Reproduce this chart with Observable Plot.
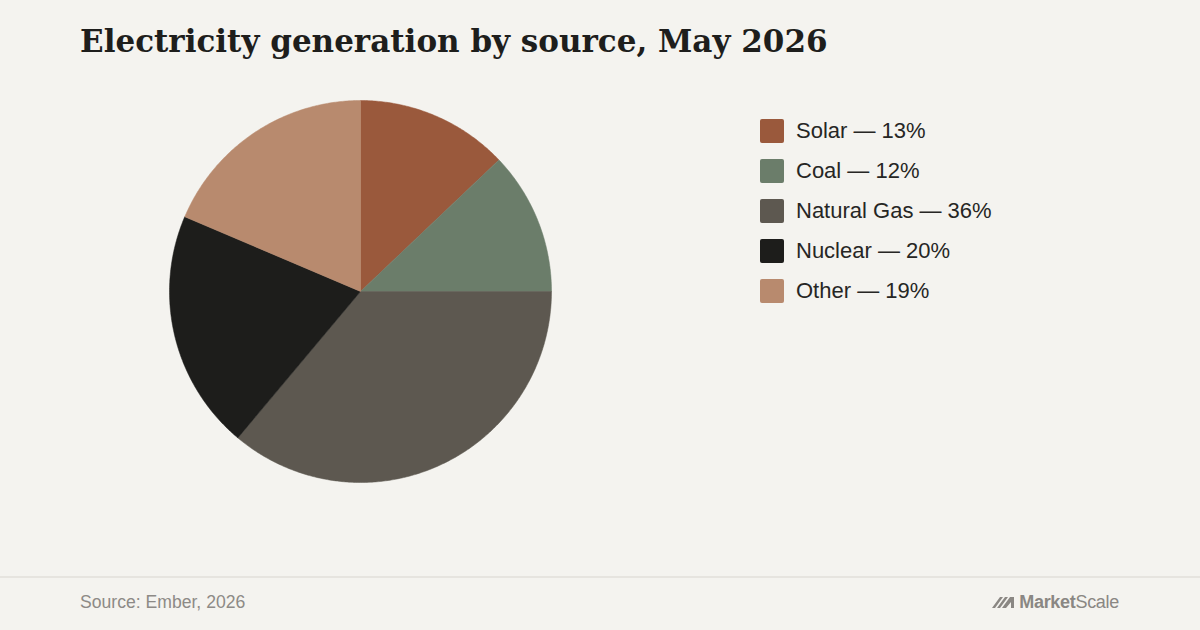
<!DOCTYPE html>
<html>
<head>
<meta charset="utf-8">
<script src="https://cdn.jsdelivr.net/npm/d3@7"></script>
<script src="https://cdn.jsdelivr.net/npm/@observablehq/plot@0.6"></script>
<style>
  html, body { margin: 0; padding: 0; }
  body { width: 1200px; height: 630px; background: #f4f3ef; position: relative; overflow: hidden; font-family: "Liberation Sans", Arial, sans-serif; }
  #title { position: absolute; left: 80px; top: 23px; font-family: "DejaVu Serif", serif; font-weight: bold; font-size: 31px; color: #1e1e1c; letter-spacing: 0; white-space: nowrap; }
  #chart { position: absolute; left: 160px; top: 91px; }
  #legend { position: absolute; left: 760px; top: 119px; }
  .item { display: flex; align-items: center; height: 24px; margin-bottom: 16px; }
  .sw { width: 24px; height: 24px; border-radius: 2px; margin-right: 12px; }
  .lab { font-size: 22px; color: #262624; white-space: nowrap; }
  #rule { position: absolute; left: 0; top: 576px; width: 1200px; height: 2px; background: #e6e4df; }
  #source { position: absolute; left: 80px; top: 592px; font-size: 17.6px; color: #8d8a86; }
  #logo { position: absolute; right: 81px; top: 592px; display: flex; align-items: center; font-size: 18px; color: #8a8783; letter-spacing: -0.3px; }
  #logo b { font-weight: bold; }
</style>
</head>
<body>
<div id="title">Electricity generation by source, May 2026</div>
<div id="chart"></div>
<div id="legend"></div>
<div id="rule"></div>
<div id="source">Source: Ember, 2026</div>
<div id="logo"><svg width="24" height="13" viewBox="0 0 24 13" style="margin-right:3px"><path d="M0 12 L8 1 L11 1 L3 12 Z M5 12 L13 1 L16 1 L8 12 Z M10 12 L18 1 L22 1 L22 12 L19 12 L19 6 L14 12 Z" fill="#8a8783"/></svg><b>Market</b>Scale</div>
<script>
const sources = ["Solar", "Coal", "Natural Gas", "Nuclear", "Other"];
const shares = [12.9, 12.1, 36.1, 20.3, 18.6];
const labels = ["13%", "12%", "36%", "20%", "19%"];
const colors = ["#9a593c", "#6b7d6a", "#5d5850", "#1d1d1b", "#b88a6e"];

const data = sources.map((s, i) => ({source: s, share: shares[i], label: labels[i], color: colors[i]}));

// compute wedge polygons from data via d3.pie
const arcs = d3.pie().sort(null).value(d => d.share)(data);
const pts = [];
for (const a of arcs) {
  const n = Math.max(2, Math.ceil((a.endAngle - a.startAngle) / (Math.PI / 360)));
  pts.push({source: a.data.source, x: 0, y: 0});
  for (let k = 0; k <= n; k++) {
    const t = a.startAngle + (a.endAngle - a.startAngle) * k / n;
    pts.push({source: a.data.source, x: Math.sin(t), y: Math.cos(t)});
  }
  pts.push({source: a.data.source, x: 0, y: 0});
}

const plot = Plot.plot({
  width: 400,
  height: 400,
  margin: 9,
  x: {domain: [-1, 1], axis: null},
  y: {domain: [-1, 1], axis: null},
  color: {domain: sources, range: colors},
  style: {background: "transparent", overflow: "visible"},
  marks: [
    Plot.line(pts, {x: "x", y: "y", z: "source", fill: "source", stroke: "source", strokeWidth: 0.5, curve: "linear"})
  ]
});
document.getElementById("chart").appendChild(plot);

const legend = document.getElementById("legend");
for (const d of data) {
  const row = document.createElement("div");
  row.className = "item";
  row.innerHTML = `<div class="sw" style="background:${d.color}"></div><div class="lab">${d.source} — ${d.label}</div>`;
  legend.appendChild(row);
}
</script>
</body>
</html>
